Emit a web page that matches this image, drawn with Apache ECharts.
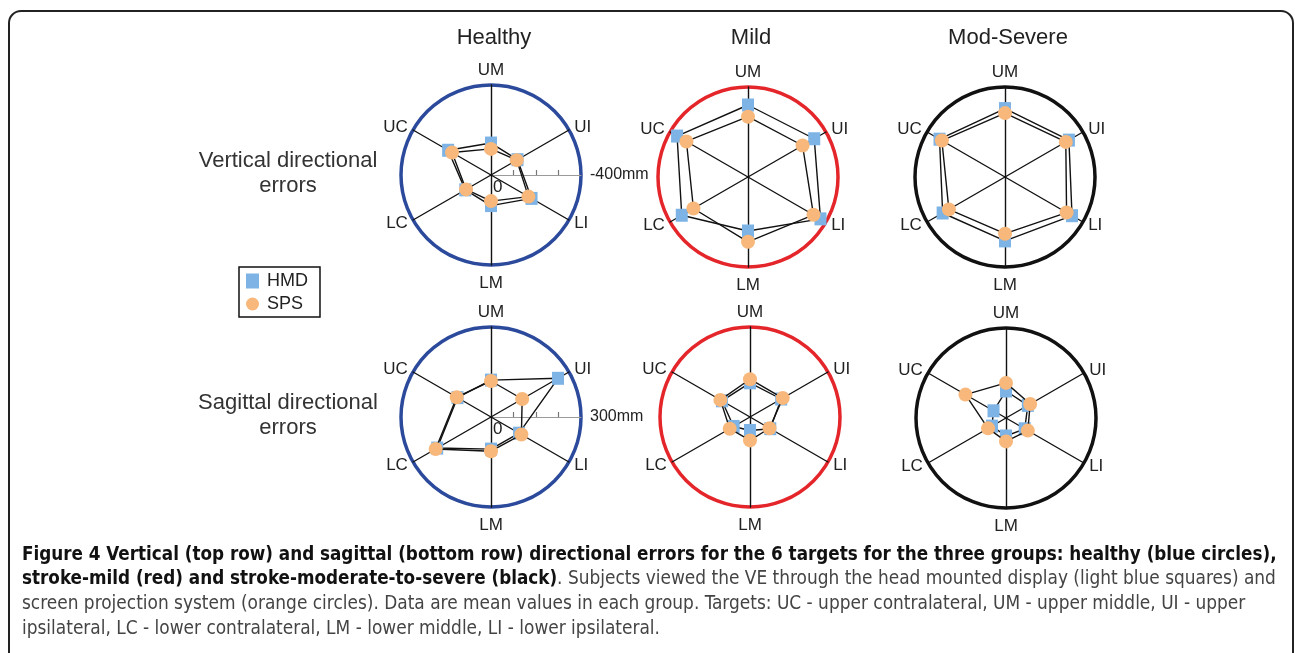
<!DOCTYPE html>
<html>
<head>
<meta charset="utf-8">
<script src="https://cdn.jsdelivr.net/npm/echarts@6/dist/echarts.min.js"></script>
<style>
html,body{margin:0;padding:0;background:#fff;}
#chart{width:1295px;height:653px;}
</style>
</head>
<body>
<div id="chart"></div>
<script>
// ---- data ----
const targets = ['UM', 'UC', 'LC', 'LM', 'LI', 'UI'];
const groups = ['Healthy', 'Mild', 'Mod-Severe'];
const rowLabels = [['Vertical directional', 'errors'], ['Sagittal directional', 'errors']];
const devices = ['HMD', 'SPS'];

// Vertical directional errors (mm magnitude, scale edge = -400 mm)
const vertHealthyHMD = [142, 220, 132, 136, 208, 136];
const vertHealthySPS = [116, 200, 128, 116, 192, 132];
const vertMildHMD    = [320, 364, 340, 240, 372, 340];
const vertMildSPS    = [268, 316, 280, 288, 336, 280];
const vertModHMD     = [304, 336, 320, 284, 344, 328];
const vertModSPS     = [284, 324, 288, 252, 316, 312];

// Sagittal directional errors (mm, scale edge = 300 mm)
const sagHealthyHMD = [123, 129, 207, 107, 108, 258];
const sagHealthySPS = [120, 132, 213, 114, 117, 120];
const sagMildHMD    = [114, 108, 63, 45, 78, 120];
const sagMildSPS    = [126, 114, 78, 78, 75, 126];
const sagModHMD     = [90, 48, 54, 60, 72, 84];
const sagModSPS     = [117, 156, 69, 78, 84, 93];

const vertScaleMax = 400, vertScaleName = '-400mm', vertTicks = [100, 200, 300];
const sagScaleMax = 300, sagScaleName = '300mm', sagTicks = [75, 150, 225];

const captionLines = [
  [['b', 'Figure 4 Vertical (top row) and sagittal (bottom row) directional errors for the 6 targets for the three groups: healthy (blue circles),']],
  [['b', 'stroke-mild (red) and stroke-moderate-to-severe (black)'], ['n', '. Subjects viewed the VE through the head mounted display (light blue squares) and']],
  [['n', 'screen projection system (orange circles). Data are mean values in each group. Targets: UC - upper contralateral, UM - upper middle, UI - upper']],
  [['n', 'ipsilateral, LC - lower contralateral, LM - lower middle, LI - lower ipsilateral.']]
];

// ---- layout / style ----
const FONT = "'Liberation Sans', Arial, sans-serif";
const CAPFONT = "'Liberation Sans Narrow', 'DejaVu Sans Condensed', 'Open Sans', sans-serif";
const ringColors = ['#2c4a9c', '#e4262b', '#111111'];
const colX = [[491, 748, 1005], [491, 750, 1006]];
const rowY = [[175, 177, 177], [417, 417, 418]];
const R = 90;
const hmdColor = '#7db3e5';
const spsColor = '#f8b87b';

const panelData = [
  [[vertHealthyHMD, vertHealthySPS], [vertMildHMD, vertMildSPS], [vertModHMD, vertModSPS]],
  [[sagHealthyHMD, sagHealthySPS], [sagMildHMD, sagMildSPS], [sagModHMD, sagModSPS]]
];
const rowMax = [vertScaleMax, sagScaleMax];

const radars = [], series = [];
for (let r = 0; r < 2; r++) {
  for (let c = 0; c < 3; c++) {
    const idx = radars.length;
    radars.push({
      center: [colX[r][c], rowY[r][c]],
      radius: R,
      startAngle: 90,
      shape: 'circle',
      splitNumber: 1,
      indicator: targets.map(t => ({ name: t, max: rowMax[r], min: 0 })),
      nameGap: 6,
      axisName: { color: '#222', fontSize: 17, fontFamily: FONT, padding: [4, 0, 0, 0] },
      axisLine: { lineStyle: { color: '#111', width: 1.4 } },
      splitLine: { lineStyle: { color: ringColors[c], width: 3.5 } },
      splitArea: { show: false },
      axisTick: { show: false },
      axisLabel: { show: false }
    });
    devices.forEach((d, k) => {
      series.push({
        type: 'radar',
        name: d,
        radarIndex: idx,
        symbol: k === 0 ? 'rect' : 'circle',
        symbolSize: k === 0 ? [12, 13] : 14,
        z: 2 + k,
        lineStyle: { color: '#111', width: 1.4 },
        itemStyle: { color: k === 0 ? hmdColor : spsColor, borderWidth: 0 },
        emphasis: { disabled: true },
        silent: true,
        data: [{ name: d, value: panelData[r][c][k] }]
      });
    });
  }
}

// scale bars on the Healthy panels (polar radius axes drawn at angle 0)
const scaleSpecs = [
  { max: vertScaleMax, name: vertScaleName, ticks: vertTicks, center: [colX[0][0], rowY[0][0]] },
  { max: sagScaleMax, name: sagScaleName, ticks: sagTicks, center: [colX[1][0], rowY[1][0]] }
];
const polar = [], angleAxis = [], radiusAxis = [];
scaleSpecs.forEach((s, i) => {
  polar.push({ center: s.center, radius: R, z: 1 });
  angleAxis.push({ polarIndex: i, type: 'value', startAngle: 0, min: 0, max: 360, show: false });
  radiusAxis.push({
    polarIndex: i, type: 'value', min: 0, max: s.max,
    axisLine: { lineStyle: { color: '#9a9a9a', width: 1.2 } },
    axisTick: { show: true, customValues: s.ticks, length: 5, lineStyle: { color: '#777', width: 1.2 } },
    axisLabel: { show: true, customValues: [0], formatter: v => (v === 0 ? '0' : ''), color: '#222', fontSize: 17, fontFamily: FONT, align: 'left', verticalAlign: 'top', margin: -4, padding: [0, 0, 0, 2] },
    splitLine: { show: false },
    name: s.name, nameLocation: 'end', nameGap: 9,
    nameTextStyle: { color: '#222', fontSize: 16, fontFamily: FONT }
  });
});

const graphic = [];
graphic.push({
  type: 'rect', shape: { x: 9, y: 11, width: 1284, height: 700, r: 12 },
  style: { fill: 'none', stroke: '#222', lineWidth: 2 }, silent: true
});
groups.forEach((g, c) => {
  graphic.push({ type: 'text', x: colX[0][c] + 3, y: 38, style: { text: g, font: '22px ' + FONT, fill: '#222', align: 'center', verticalAlign: 'middle' } });
});
rowLabels.forEach((lines, r) => {
  lines.forEach((t, j) => {
    graphic.push({ type: 'text', x: 288, y: (r === 0 ? 161 : 403) + j * 25, style: { text: t, font: '22px ' + FONT, fill: '#333', align: 'center', verticalAlign: 'middle' } });
  });
});
const capY = [555, 579, 604, 629];
captionLines.forEach((parts, i) => {
  graphic.push({
    type: 'text', x: 22, y: capY[i],
    style: {
      text: parts.map(p => '{' + p[0] + '|' + p[1] + '}').join(''),
      verticalAlign: 'middle', align: 'left',
      rich: {
        b: { fontFamily: CAPFONT, fontWeight: 'bold', fontSize: 18.7, fill: '#111' },
        n: { fontFamily: CAPFONT, fontSize: 18.9, fill: '#444' }
      }
    }
  });
});

const chart = echarts.init(document.getElementById('chart'), null, { renderer: 'canvas' });
chart.setOption({
  animation: false,
  backgroundColor: '#fff',
  legend: {
    orient: 'vertical', left: 239, top: 267,
    padding: [5, 12, 4, 7], itemGap: 5, itemWidth: 13, itemHeight: 15,
    borderColor: '#111', borderWidth: 1.5,
    selectedMode: false,
    textStyle: { fontSize: 18, fontFamily: FONT, color: '#222', padding: [0, 0, 0, 3] },
    data: [
      { name: 'HMD', icon: 'rect', itemStyle: { color: hmdColor } },
      { name: 'SPS', icon: 'circle', itemStyle: { color: spsColor } }
    ]
  },
  radar: radars,
  polar: polar,
  angleAxis: angleAxis,
  radiusAxis: radiusAxis,
  series: series,
  graphic: graphic
});
</script>
</body>
</html>
